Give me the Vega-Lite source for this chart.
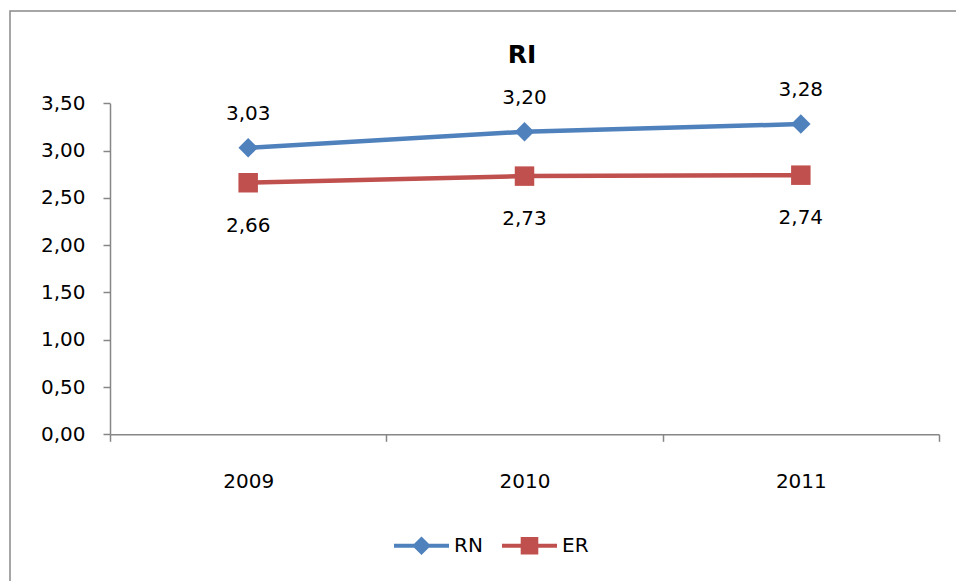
{
  "$schema": "https://vega.github.io/schema/vega-lite/v6.json",
  "width": 950,
  "height": 575,
  "autosize": {"type": "none"},
  "padding": {"left": 10, "top": 11, "right": 0, "bottom": 0},
  "background": "white",
  "title": {
    "text": "RI",
    "font": "DejaVu Sans",
    "fontSize": 25,
    "fontWeight": "bold",
    "color": "#000000",
    "anchor": "middle",
    "baseline": "alphabetic",
    "offset": -77,
    "dx": 37
  },
  "data": {
    "values": [
      {"year": "2009", "series": "RN", "value": 3.03},
      {"year": "2010", "series": "RN", "value": 3.20},
      {"year": "2011", "series": "RN", "value": 3.28},
      {"year": "2009", "series": "ER", "value": 2.66},
      {"year": "2010", "series": "ER", "value": 2.73},
      {"year": "2011", "series": "ER", "value": 2.74}
    ]
  },
  "encoding": {
    "x": {
      "field": "year",
      "type": "ordinal",
      "scale": {"type": "band", "range": [100, 929], "paddingInner": 0, "paddingOuter": 0},
      "axis": {"title": null, "offset": -151.7, "tickBand": "extent", "labelPadding": 30, "labelAngle": 0}
    },
    "y": {
      "field": "value",
      "type": "quantitative",
      "scale": {"domain": [0, 3.5], "range": [423.3, 92.3], "nice": false},
      "axis": {"title": null, "offset": -100, "values": [0, 0.5, 1, 1.5, 2, 2.5, 3, 3.5], "format": ".2f", "labelPadding": 18}
    },
    "color": {
      "field": "series",
      "type": "nominal",
      "scale": {"domain": ["RN", "ER"], "range": ["#4F81BD", "#C0504D"]},
      "legend": {
        "title": null,
        "orient": "none",
        "legendX": 384,
        "legendY": 507,
        "direction": "horizontal",
        "symbolSize": 3025,
        "labelFont": "DejaVu Sans",
        "labelFontSize": 20,
        "labelColor": "#000000",
        "labelOffset": 5,
        "columnPadding": 19,
        "encode": {
          "symbols": {
            "update": {
              "shape": {"signal": "datum.value === 'RN' ? 'M-1,-0.075H1V0.075H-1Z M0,-0.34L0.34,0L0,0.34L-0.34,0Z' : 'M-1,-0.075H1V0.075H-1Z M-0.32,-0.32H0.32V0.32H-0.32Z'"},
              "fill": {"scale": "color", "field": "value"},
              "fillOpacity": {"value": 1},
              "strokeWidth": {"value": 0},
              "size": {"value": 3025}
            }
          }
        }
      }
    }
  },
  "layer": [
    {"mark": {"type": "line", "strokeWidth": 4.5}},
    {
      "transform": [{"filter": "datum.series === 'RN'"}],
      "mark": {"type": "point", "filled": true, "opacity": 1, "size": 380, "shape": "diamond"}
    },
    {
      "transform": [{"filter": "datum.series === 'ER'"}],
      "mark": {"type": "point", "filled": true, "opacity": 1, "size": 380, "shape": "square"}
    },
    {
      "transform": [{"filter": "datum.series === 'RN'"}],
      "mark": {"type": "text", "baseline": "alphabetic", "dy": -28, "font": "DejaVu Sans", "fontSize": 20},
      "encoding": {
        "text": {"field": "value", "type": "quantitative", "format": ".2f"},
        "color": {"value": "#000000"}
      }
    },
    {
      "transform": [{"filter": "datum.series === 'ER'"}],
      "mark": {"type": "text", "baseline": "alphabetic", "dy": 49, "font": "DejaVu Sans", "fontSize": 20},
      "encoding": {
        "text": {"field": "value", "type": "quantitative", "format": ".2f"},
        "color": {"value": "#000000"}
      }
    }
  ],
  "config": {
    "locale": {
      "number": {"decimal": ",", "thousands": ".", "grouping": [3], "currency": ["", " €"]}
    },
    "view": {"stroke": "#898989", "strokeWidth": 1.5},
    "axis": {
      "grid": false,
      "domainColor": "#868686",
      "domainWidth": 1.5,
      "tickColor": "#868686",
      "tickWidth": 1.5,
      "tickSize": 7,
      "labelFont": "DejaVu Sans",
      "labelFontSize": 20,
      "labelColor": "#000000"
    }
  }
}
